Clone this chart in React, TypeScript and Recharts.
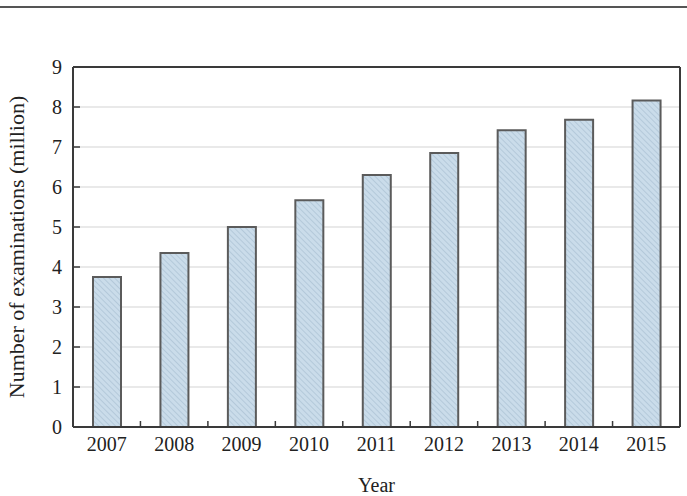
import { BarChart, Bar, XAxis, YAxis, CartesianGrid } from "recharts";

// Examinations per year, in millions
const years = ["2007", "2008", "2009", "2010", "2011", "2012", "2013", "2014", "2015"];
const examinations = [3.75, 4.35, 5.0, 5.67, 6.3, 6.85, 7.42, 7.68, 8.16];
const yTicks = [0, 1, 2, 3, 4, 5, 6, 7, 8, 9];

const data = years.map((year, i) => ({ year, value: examinations[i] }));

const W = 687;
const H = 496;
const PLOT_LEFT = 73;
const PLOT_RIGHT = 7;
const HALF_BAND = (W - PLOT_LEFT - PLOT_RIGHT) / years.length / 2;
const FONT = "'Liberation Serif', 'Times New Roman', serif";
const AXIS = "#3a3a3a";
const TEXT = "#222";

// year label plus the small upward tick between categories
const XTick = (props: any) => {
  const { x, y, payload, index } = props;
  return (
    <g>
      {index < years.length - 1 && (
        <line x1={x + HALF_BAND} x2={x + HALF_BAND} y1={y} y2={y - 6} stroke={AXIS} strokeWidth={1.5} />
      )}
      <text x={x} y={y + 24} textAnchor="middle" fontFamily={FONT} fontSize={20} fill={TEXT}>
        {payload.value}
      </text>
    </g>
  );
};

// value label plus an inward tick mark
const YTick = (props: any) => {
  const { x, y, payload } = props;
  return (
    <g>
      {payload.value > 0 && payload.value < 9 && (
        <line x1={x + 11} x2={x + 18} y1={y} y2={y} stroke={AXIS} strokeWidth={1.5} />
      )}
      <text x={x} y={y + 7} textAnchor="end" fontFamily={FONT} fontSize={20} fill={TEXT}>
        {payload.value}
      </text>
    </g>
  );
};

const App = () => {
  return (
    <div style={{ position: "absolute", left: 0, top: 0, width: W, height: H, background: "#fff" }}>
      <div style={{ position: "absolute", left: 0, top: 6, width: W, height: 2, background: "#555" }} />
      <BarChart
        width={W}
        height={H}
        data={data}
        margin={{ top: 66, right: PLOT_RIGHT - 1, bottom: 0, left: 0 }}
        barSize={28}
      >
        <defs>
          <pattern id="hatch" width="4" height="4" patternUnits="userSpaceOnUse" patternTransform="rotate(-45)">
            <rect width="4" height="4" fill="#cadcea" />
            <line x1="0" y1="0" x2="0" y2="4" stroke="#9fb7ca" strokeWidth="1" />
          </pattern>
        </defs>
        <CartesianGrid vertical={false} stroke="#e2e2e2" strokeWidth={1.5} />
        <XAxis
          dataKey="year"
          height={69}
          tickSize={0}
          tickMargin={0}
          tickLine={false}
          axisLine={{ stroke: AXIS, strokeWidth: 2 }}
          tick={<XTick />}
          interval={0}
          label={{ value: "Year", position: "insideBottom", offset: 4, fontFamily: FONT, fontSize: 20, fill: TEXT }}
        />
        <XAxis
          xAxisId="top"
          orientation="top"
          dataKey="year"
          height={1}
          tick={false}
          tickLine={false}
          axisLine={{ stroke: AXIS, strokeWidth: 2 }}
        />
        <YAxis
          width={PLOT_LEFT}
          domain={[0, 9]}
          ticks={yTicks}
          tickSize={0}
          tickMargin={11}
          tickLine={false}
          axisLine={{ stroke: AXIS, strokeWidth: 2 }}
          tick={<YTick />}
          label={{
            value: "Number of examinations (million)",
            angle: -90,
            position: "insideLeft",
            offset: 16,
            fontFamily: FONT,
            fontSize: 22,
            fill: TEXT,
            style: { textAnchor: "middle" },
          }}
        />
        <YAxis
          yAxisId="right"
          orientation="right"
          width={1}
          domain={[0, 9]}
          tick={false}
          tickLine={false}
          axisLine={{ stroke: AXIS, strokeWidth: 2 }}
        />
        <Bar dataKey="value" fill="url(#hatch)" stroke="#5b5b5b" strokeWidth={2} isAnimationActive={false} />
      </BarChart>
    </div>
  );
};

export default App;
